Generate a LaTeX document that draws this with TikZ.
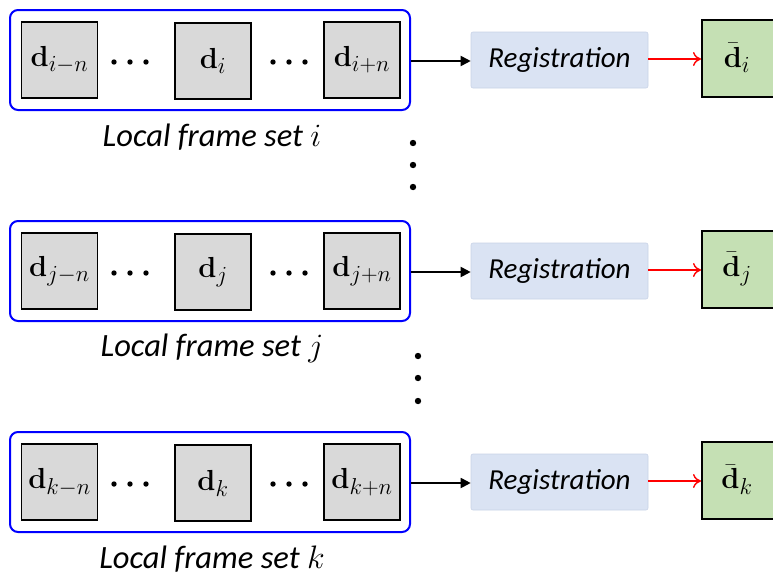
\RequirePackage{fix-cm}
\documentclass[tikz,border=0pt]{standalone}
\usepackage[no-math]{fontspec}
\setmainfont{Carlito}
\usetikzlibrary{arrows.meta}
\DeclareMathSizes{29}{29}{23}{18}
\definecolor{framegray}{HTML}{D9D9D9}
\definecolor{regblue}{HTML}{DAE3F3}
\definecolor{regedge}{HTML}{C8D2E6}
\definecolor{resgreen}{HTML}{C5E0B4}
\tikzset{
  frame/.style={draw=black, line width=1.6pt, fill=framegray, minimum width=76pt, minimum height=76pt, inner sep=0pt, font=\fontsize{29}{34}\selectfont},
  setbox/.style={draw=blue, line width=2pt, rounded corners=8pt, minimum width=400pt, minimum height=100pt, inner sep=0pt},
  regbox/.style={draw=regedge, line width=0.6pt, fill=regblue, rounded corners=2pt, minimum width=177pt, minimum height=56pt, inner sep=0pt, font=\fontsize{29}{32}\selectfont\itshape},
  resbox/.style={draw=black, line width=2pt, fill=resgreen, minimum width=78pt, minimum height=77pt, inner sep=0pt, font=\fontsize{29}{34}\selectfont},
  setlabel/.style={font=\fontsize{32.5}{36}\selectfont\itshape},
  blackarrow/.style={line width=1.8pt, -{Triangle[length=10pt,width=10pt]}},
  redarrow/.style={red, line width=1.4pt, -{To[length=8pt,width=14pt]}},
  dot/.style={fill=black, draw=none}
}
\begin{document}
\begin{tikzpicture}[x=1pt,y=-1pt]
\useasboundingbox (0,0) rectangle (773,576);
\clip (0,0) rectangle (773,576);
\foreach \r/\c/\s in {1/60/i, 2/271/j, 3/482/k}{
  \node[setbox] (set\r) at (210,\c) {};
  \node[frame] (f\r a) at (59.5,\c) {$\mathbf{d}_{\s-n}$};
  \node[frame] (f\r b) at (213,\c+1) {$\mathbf{d}_{\s}$};
  \node[frame] (f\r c) at (362,\c) {$\mathbf{d}_{\s+n}$};
  \foreach \x in {114,130,146,273,289,305}{
    \fill[dot] (\x,\c+2) circle (2.7pt);
  }
  \node[regbox] (reg\r) at (559.5,\c) {Registration};
  \node[resbox] (res\r) at (741,\c-2) {\hspace*{-8pt}$\bar{\mathbf{d}}_{\s}$};
  \node[setlabel] (lab\r) at (212,\c+77) {Local frame set $\s$};
  \draw[blackarrow] (set\r.east |- 0,\c+1) -- (reg\r.west |- 0,\c+1);
  \draw[redarrow] (reg\r.east |- 0,\c-1) -- (res\r.west |- 0,\c-1);
}
\foreach \y in {143,165,187}{ \fill[dot] (413,\y) circle (3.2pt); }
\foreach \y in {356,378,401}{ \fill[dot] (418,\y) circle (3.2pt); }
\end{tikzpicture}
\end{document}
